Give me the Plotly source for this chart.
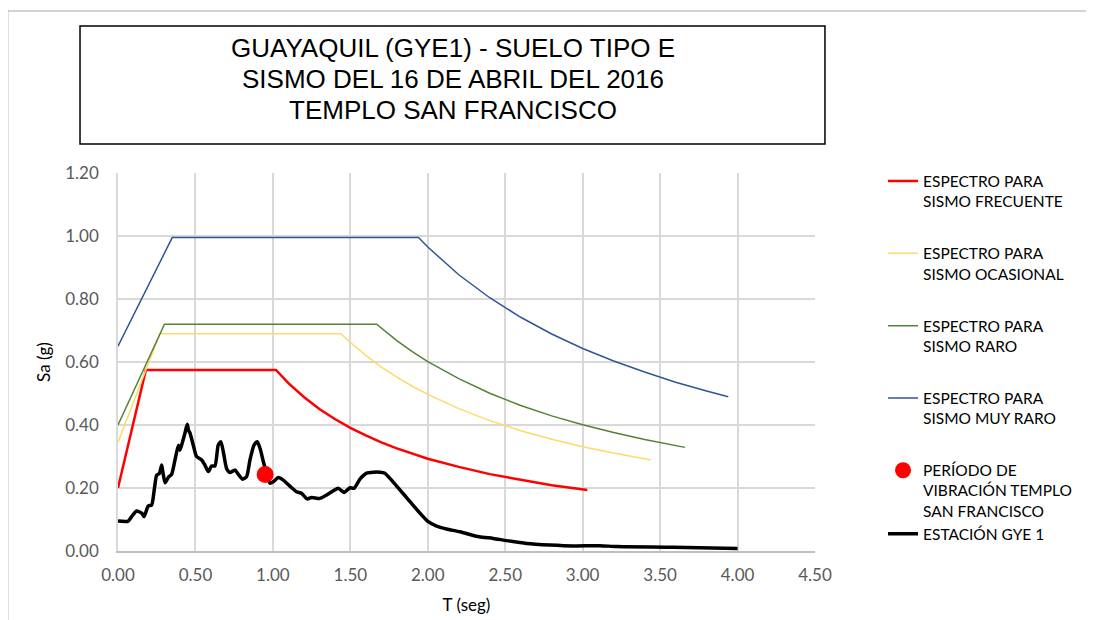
import plotly.graph_objects as go

# periodos (s) y aceleraciones espectrales (g)
t_frecuente = [0.00, 0.18, 1.02, 1.10, 1.20, 1.30, 1.40, 1.50, 1.60, 1.70, 1.80, 1.90,
               2.00, 2.20, 2.40, 2.60, 2.80, 3.03]
sa_frecuente = [0.200, 0.575, 0.575, 0.533, 0.489, 0.451, 0.419, 0.391, 0.367, 0.345,
                0.326, 0.309, 0.293, 0.267, 0.244, 0.226, 0.209, 0.194]

t_ocasional = [0.00, 0.27, 1.44, 1.50, 1.60, 1.70, 1.80, 1.90, 2.00, 2.20, 2.40, 2.60,
               2.80, 3.00, 3.20, 3.44]
sa_ocasional = [0.345, 0.690, 0.690, 0.662, 0.621, 0.584, 0.552, 0.523, 0.497, 0.452,
                0.414, 0.382, 0.355, 0.331, 0.311, 0.289]

t_raro = [0.00, 0.30, 1.67, 1.80, 1.90, 2.00, 2.20, 2.40, 2.60, 2.80, 3.00, 3.20, 3.40, 3.66]
sa_raro = [0.400, 0.720, 0.720, 0.668, 0.633, 0.601, 0.547, 0.501, 0.462, 0.429, 0.401,
           0.376, 0.354, 0.329]

t_muy_raro = [0.00, 0.35, 1.94, 2.00, 2.20, 2.40, 2.60, 2.80, 3.00, 3.20, 3.40, 3.60, 3.80, 3.94]
sa_muy_raro = [0.650, 0.995, 0.995, 0.965, 0.877, 0.804, 0.742, 0.689, 0.643, 0.603, 0.568,
               0.536, 0.508, 0.490]

t_templo = [0.95]
sa_templo = [0.243]

t_gye1 = [0.000, 0.066, 0.088, 0.120, 0.153, 0.168, 0.195, 0.217, 0.234, 0.250, 0.267,
          0.282, 0.290, 0.304, 0.325, 0.346, 0.368, 0.390, 0.400, 0.417, 0.432, 0.447,
          0.455, 0.465, 0.486, 0.507, 0.540, 0.561, 0.583, 0.604, 0.626, 0.647, 0.664,
          0.680, 0.701, 0.723, 0.755, 0.776, 0.804, 0.830, 0.852, 0.878, 0.899, 0.917,
          0.938, 0.960, 0.981, 1.003, 1.035, 1.067, 1.110, 1.153, 1.185, 1.222, 1.250,
          1.303, 1.347, 1.390, 1.422, 1.461, 1.498, 1.523, 1.562, 1.605, 1.648, 1.691,
          1.723, 1.766, 1.820, 1.885, 1.950, 2.003, 2.057, 2.121, 2.208, 2.332, 2.422,
          2.509, 2.638, 2.789, 2.939, 3.111, 3.219, 3.585, 4.000]
sa_gye1 = [0.095, 0.095, 0.109, 0.127, 0.120, 0.109, 0.143, 0.146, 0.194, 0.241, 0.246,
           0.273, 0.250, 0.217, 0.234, 0.243, 0.289, 0.336, 0.320, 0.347, 0.374, 0.402,
           0.384, 0.374, 0.336, 0.300, 0.289, 0.273, 0.252, 0.270, 0.270, 0.336, 0.347,
           0.315, 0.262, 0.249, 0.257, 0.244, 0.228, 0.236, 0.289, 0.336, 0.347, 0.326,
           0.284, 0.247, 0.215, 0.220, 0.233, 0.225, 0.206, 0.188, 0.183, 0.165, 0.170,
           0.167, 0.178, 0.191, 0.199, 0.186, 0.201, 0.199, 0.228, 0.247, 0.250, 0.250,
           0.247, 0.225, 0.194, 0.157, 0.120, 0.093, 0.079, 0.070, 0.061, 0.045, 0.040,
           0.033, 0.024, 0.019, 0.016, 0.017, 0.014, 0.012, 0.008]

x_ticks = [0.0, 0.5, 1.0, 1.5, 2.0, 2.5, 3.0, 3.5, 4.0, 4.5]
y_ticks = [0.0, 0.2, 0.4, 0.6, 0.8, 1.0, 1.2]

title_lines = ["GUAYAQUIL (GYE1) - SUELO TIPO E",
               "SISMO DEL 16 DE ABRIL DEL 2016",
               "TEMPLO SAN FRANCISCO"]

FONT = "Lato"
GRID = "#D9D9D9"

fig = go.Figure()

spectra = [
    (t_frecuente, sa_frecuente, "ESPECTRO PARA<br>SISMO FRECUENTE", "#FF0000", 2.5, "g1"),
    (t_ocasional, sa_ocasional, "ESPECTRO PARA<br>SISMO OCASIONAL", "#FFD966", 1.5, "g2"),
    (t_raro, sa_raro, "ESPECTRO PARA<br>SISMO RARO", "#548235", 1.5, "g3"),
    (t_muy_raro, sa_muy_raro, "ESPECTRO PARA<br>SISMO MUY RARO", "#2F5597", 1.5, "g4"),
]
for t, sa, name, color, width, group in spectra:
    fig.add_trace(go.Scatter(x=t, y=sa, mode="lines", name=name, legendgroup=group,
                             line={"color": color, "width": width}))

fig.add_trace(go.Scatter(
    x=t_gye1, y=sa_gye1, mode="lines", name="ESTACIÓN GYE 1", legendgroup="g5",
    line={"color": "#000000", "width": 3.5, "shape": "spline", "smoothing": 0.6},
    legendrank=1001,
))
fig.add_trace(go.Scatter(
    x=t_templo, y=sa_templo, mode="markers",
    name="PERÍODO DE<br>VIBRACIÓN TEMPLO<br>SAN FRANCISCO", legendgroup="g5",
    marker={"color": "#FF0000", "size": 17}, legendrank=1000,
))

fig.update_xaxes(
    range=[0, 4.5], tickvals=x_ticks, ticktext=[f"{v:.2f}" for v in x_ticks],
    showgrid=True, gridcolor=GRID, gridwidth=1.5, zeroline=False,
    showline=True, linecolor="#BFBFBF", linewidth=1.5, automargin=False,
    tickfont={"family": FONT, "size": 17, "color": "#595959"}, ticks="",
    ticklabelstandoff=8,
    title={"text": "T (seg)", "font": {"family": FONT, "size": 17, "color": "#000000"},
           "standoff": 15},
)
fig.update_yaxes(
    range=[0, 1.2], tickvals=y_ticks, ticktext=[f"{v:.2f}" for v in y_ticks],
    showgrid=True, gridcolor=GRID, gridwidth=1.5, zeroline=False,
    showline=True, linecolor=GRID, linewidth=1.5, automargin=False,
    tickfont={"family": FONT, "size": 17, "color": "#595959"}, ticks="",
    ticklabelstandoff=14,
    title={"text": "Sa (g)", "font": {"family": FONT, "size": 17, "color": "#000000"},
           "standoff": 10},
)

# recuadro del titulo
fig.add_shape(type="rect", xref="paper", yref="paper",
              x0=-0.0545, x1=1.0143, y0=1.0767, y1=1.3889,
              line={"color": "#000000", "width": 1.5}, fillcolor="#FFFFFF")
for i, line in enumerate(title_lines):
    fig.add_annotation(
        xref="paper", yref="paper", x=0.48, y=1.3307 - i * 0.0820,
        xanchor="center", yanchor="middle", text=line, showarrow=False,
        font={"family": "Liberation Sans, Arial", "size": 26, "color": "#000000"},
    )

# marco exterior del area del grafico (recortado en la imagen)
fig.add_shape(type="rect", xref="paper", yref="paper", x0=-0.158, x1=1.6, y0=-0.4, y1=1.4286,
              line={"color": "#A6A6A6", "width": 1}, layer="below")

fig.update_layout(
    width=1086, height=612,
    margin={"l": 110, "r": 279, "t": 165, "b": 69, "autoexpand": False},
    paper_bgcolor="#FFFFFF", plot_bgcolor="#FFFFFF",
    showlegend=True,
    legend={
        "x": 1.0976, "y": 1.0225, "xanchor": "left", "yanchor": "top",
        "traceorder": "grouped", "tracegroupgap": 29, "valign": "top",
        "font": {"family": FONT, "size": 15.5, "color": "#000000"},
        "bgcolor": "rgba(0,0,0,0)", "maxheight": 1,
    },
)

fig.write_html("out.html")
